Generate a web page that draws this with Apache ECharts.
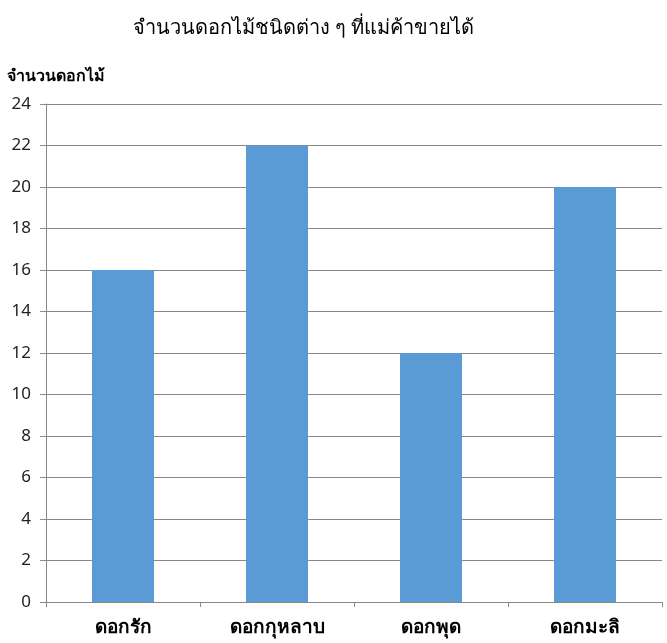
<!DOCTYPE html>
<html><head><meta charset="utf-8">
<script src="https://cdn.jsdelivr.net/npm/echarts@6/dist/echarts.min.js"></script>
<style>html,body{margin:0;padding:0;background:#fff}#c{width:667px;height:643px}</style>
</head><body><div id="c"></div>
<script>
const categories = ['ดอกรัก', 'ดอกกุหลาบ', 'ดอกพุด', 'ดอกมะลิ'];
const values = [16, 22, 12, 20];
const chart = echarts.init(document.getElementById('c'));
chart.setOption({
  animation: false,
  title: {
    text: 'จำนวนดอกไม้ชนิดต่าง ๆ ที่แม่ค้าขายได้',
    left: 298, top: 14, textAlign: 'center',
    textStyle: { fontFamily: 'serif', fontWeight: 'normal', fontSize: 20, color: '#000' }
  },
  grid: { left: 46, right: 5, top: 104, bottom: 41 },
  xAxis: {
    type: 'category', data: categories,
    axisLine: { lineStyle: { color: '#888' } },
    axisTick: { show: true, length: 5, lineStyle: { color: '#888' } },
    axisLabel: { fontSize: 19, fontWeight: 'bold', color: '#000', margin: 16, fontFamily: 'Noto Sans, sans-serif' }
  },
  yAxis: {
    type: 'value', min: 0, max: 24, interval: 2,
    name: 'จำนวนดอกไม้', nameLocation: 'end', nameGap: 20,
    nameTextStyle: { align: 'left', padding: [0, 0, 0, -39], fontSize: 16, fontWeight: 'bold', color: '#000', fontFamily: 'Noto Sans, sans-serif' },
    axisLine: { show: true, lineStyle: { color: '#888' } },
    axisTick: { show: true, length: 6, lineStyle: { color: '#888' } },
    axisLabel: { fontSize: 17, color: '#222', margin: 15, fontFamily: 'Noto Sans, sans-serif' },
    splitLine: { lineStyle: { color: '#888' } }
  },
  series: [{
    type: 'bar', data: values, barWidth: 62,
    itemStyle: { color: '#5B9BD5' }
  }]
});
</script></body></html>
